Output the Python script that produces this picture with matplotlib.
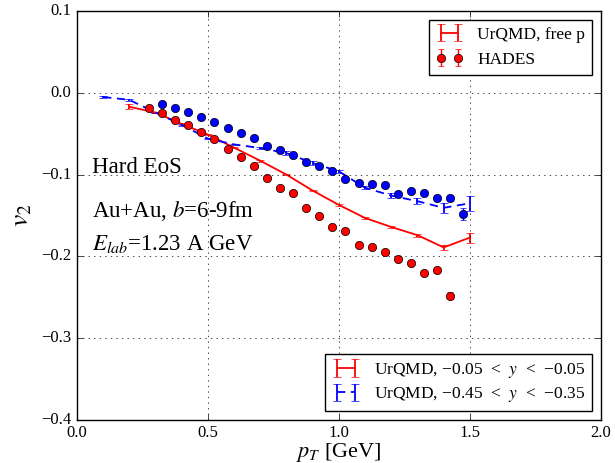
import matplotlib
matplotlib.use('Agg')
import matplotlib.pyplot as plt
import numpy as np

plt.style.use('classic')
plt.rcParams['font.family'] = ['Liberation Serif', 'DejaVu Serif']
plt.rcParams['mathtext.fontset'] = 'stix'

# HADES, protonen (rot: mittlere Rapiditaet, blau: andere Rapiditaet)
pt_hades_red = [0.275, 0.325, 0.375, 0.425, 0.475, 0.525, 0.575, 0.625, 0.675, 0.725,
                0.775, 0.825, 0.875, 0.925, 0.975, 1.025, 1.075, 1.125, 1.175, 1.225,
                1.275, 1.325, 1.375, 1.425]
v2_hades_red = [-0.019, -0.025, -0.033, -0.039, -0.048, -0.057, -0.069, -0.079, -0.089, -0.104,
                -0.116, -0.122, -0.141, -0.150, -0.164, -0.169, -0.186, -0.188, -0.194, -0.203,
                -0.208, -0.220, -0.217, -0.248]
err_hades_red = [0.001, 0.001, 0.001, 0.001, 0.001, 0.001, 0.001, 0.001, 0.001, 0.001,
                 0.001, 0.001, 0.001, 0.001, 0.001, 0.001, 0.001, 0.001, 0.002, 0.002,
                 0.002, 0.002, 0.003, 0.004]

pt_hades_blue = [0.325, 0.375, 0.425, 0.475, 0.525, 0.575, 0.625, 0.675, 0.725, 0.775,
                 0.825, 0.875, 0.925, 0.975, 1.025, 1.075, 1.125, 1.175, 1.225, 1.275,
                 1.325, 1.375, 1.425, 1.475]
v2_hades_blue = [-0.013, -0.018, -0.023, -0.030, -0.036, -0.043, -0.049, -0.055, -0.065, -0.070,
                 -0.076, -0.084, -0.089, -0.095, -0.105, -0.110, -0.112, -0.113, -0.124, -0.120,
                 -0.122, -0.128, -0.129, -0.148]
err_hades_blue = [0.001, 0.001, 0.001, 0.001, 0.001, 0.001, 0.001, 0.001, 0.001, 0.001,
                  0.001, 0.001, 0.001, 0.001, 0.001, 0.001, 0.001, 0.001, 0.002, 0.002,
                  0.002, 0.003, 0.003, 0.007]

# UrQMD
pt_urqmd = [0.1, 0.2, 0.3, 0.4, 0.5, 0.6, 0.7, 0.8, 0.9, 1.0, 1.1, 1.2, 1.3, 1.4, 1.5]
v2_urqmd_mid = [np.nan, -0.017, -0.024, -0.038, -0.051, -0.067, -0.083, -0.100, -0.1195, -0.137,
                -0.153, -0.164, -0.174, -0.189, -0.177]
err_urqmd_mid = [0.0, 0.003, 0.001, 0.001, 0.001, 0.001, 0.001, 0.001, 0.001, 0.001,
                 0.001, 0.001, 0.002, 0.003, 0.006]
v2_urqmd_fwd = [-0.005, -0.0085, -0.024, -0.039, -0.056, -0.063, -0.0675, -0.0736, -0.0858, -0.096,
                -0.116, -0.1256, -0.1325, -0.1406, -0.135]
err_urqmd_fwd = [0.001, 0.001, 0.001, 0.001, 0.001, 0.001, 0.001, 0.002, 0.002, 0.002,
                 0.002, 0.003, 0.004, 0.006, 0.009]

fig, ax = plt.subplots(figsize=(6.15, 4.63), dpi=100)
fig.patch.set_facecolor('white')
fig.subplots_adjust(left=0.125, right=0.977, top=0.976, bottom=0.093)

l_mid = ax.errorbar(pt_urqmd, v2_urqmd_mid, yerr=err_urqmd_mid, color='r', ls='-',
                    lw=1.3, capsize=3, elinewidth=1.3)
l_fwd = ax.errorbar(pt_urqmd, v2_urqmd_fwd, yerr=err_urqmd_fwd, color='b', ls='--',
                    lw=1.3, capsize=3, elinewidth=1.3, dashes=(6, 4))
h_red = ax.errorbar(pt_hades_red, v2_hades_red, yerr=err_hades_red, fmt='o', color='r',
                    mfc='r', mec='k', ms=6, capsize=2)
h_blue = ax.errorbar(pt_hades_blue, v2_hades_blue, yerr=err_hades_blue, fmt='o', color='b',
                     mfc='b', mec='k', ms=6, capsize=2)

ax.set_xlim(0, 2)
ax.set_ylim(-0.4, 0.1)
ax.set_xticks([0.0, 0.5, 1.0, 1.5, 2.0])
ax.set_yticks([-0.4, -0.3, -0.2, -0.1, 0.0, 0.1])
ax.tick_params(labelsize=12)
ax.grid(True)
ax.set_xlabel('$p_T$ [GeV]', fontsize=16, labelpad=0)
ax.set_ylabel('$v_2$', fontsize=20)

ax.text(0.057, -0.0915, 'Hard EoS', fontsize=16.5, va='center')
ax.text(0.057, -0.144, 'Au+Au, $b$=6-9fm', fontsize=16.5, va='center')
ax.text(0.057, -0.185, '$E_{lab}$=1.23 A GeV', fontsize=16.5, va='center')

leg1 = ax.legend([l_mid, h_red], ['UrQMD, free p', 'HADES'], loc='upper right',
                 fontsize=12.5, numpoints=2, handlelength=1.6)
ax.add_artist(leg1)
ax.legend([l_mid, l_fwd],
          ['UrQMD, \u22120.05  <  $y$  <  \u22120.05', 'UrQMD, \u22120.45  <  $y$  <  \u22120.35'],
          loc='lower right', fontsize=12.5, numpoints=2, handlelength=1.6,
          labelspacing=0.3)

plt.savefig('out.png', dpi=100, facecolor='white')
